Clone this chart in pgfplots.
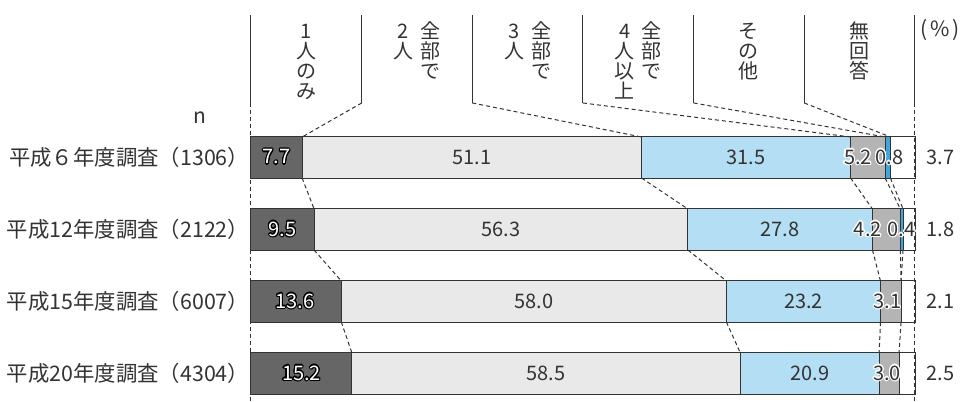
\documentclass[border=0pt]{standalone}
\usepackage{pgfplots}
\pgfplotsset{compat=1.18}
\usepackage{fontspec}
\setmainfont{Noto Sans CJK JP}
\usepackage{contour}
\contourlength{0.55pt}
\definecolor{c1}{HTML}{666666}
\definecolor{c2}{HTML}{E9E9E9}
\definecolor{c3}{HTML}{B3DEF3}
\definecolor{c4}{HTML}{B4B4B4}
\definecolor{c5}{HTML}{3FA6DE}
\definecolor{tx}{HTML}{333333}
\definecolor{ln}{HTML}{333333}
\newcommand\vch[1]{\hbox to 11pt{\hss\vrule height 8.8pt depth 1.2pt width 0pt #1\hss}}
\newcommand\vtext[1]{\vbox{\baselineskip=10pt\lineskiplimit=-10pt\lineskip=0pt #1}}
\pgfplotsset{base/.style={scale only axis, width=332pt, height=200.5pt,
  xmin=0, xmax=100, ymin=0.618, ymax=6.1875, hide axis, clip=false}}
\tikzset{dsh/.style={line width=0.5pt, color=ln, dash pattern=on 2pt off 1.5pt},
  sld/.style={line width=0.5pt, color=ln},
  hdr/.style={anchor=north, inner sep=0pt, text=tx, font=\fontsize{10}{10}\selectfont},
  rowlab/.style={anchor=east, inner sep=0pt, text=tx, font=\fontsize{10.7}{12}\selectfont}}
\begin{document}
\begin{tikzpicture}
\begin{axis}[base, xbar stacked, bar width=0.57]
\addplot[fill=c1, draw=ln, line width=0.5pt] coordinates {(7.7,4) (9.5,3) (13.6,2) (15.2,1)};
\addplot[fill=c2, draw=ln, line width=0.5pt] coordinates {(51.1,4) (56.3,3) (58.0,2) (58.5,1)};
\addplot[fill=c3, draw=ln, line width=0.5pt] coordinates {(31.5,4) (27.8,3) (23.2,2) (20.9,1)};
\addplot[fill=c4, draw=ln, line width=0.5pt] coordinates {(5.2,4) (4.2,3) (3.1,2) (3.0,1)};
\addplot[fill=c5, draw=ln, line width=0.5pt] coordinates {(0.8,4) (0.4,3) (0,2) (0,1)};
\addplot[fill=white, draw=ln, line width=0.5pt] coordinates {(3.7,4) (1.8,3) (2.1,2) (2.5,1)};
\end{axis}
\begin{axis}[base]
\path (axis cs:-37.8,0.618) rectangle (axis cs:107.23,6.1875);
% header solid lines
\addplot[sld] coordinates {(0,4.757) (0,5.979)};
\addplot[sld] coordinates {(16.667,4.757) (16.667,5.979)};
\addplot[sld] coordinates {(33.333,4.757) (33.333,5.979)};
\addplot[sld] coordinates {(50,4.757) (50,5.979)};
\addplot[sld] coordinates {(66.667,4.757) (66.667,5.979)};
\addplot[sld] coordinates {(83.333,4.757) (83.333,5.979)};
\addplot[sld] coordinates {(100,4.757) (100,5.979)};
% long dashed edges
\addplot[dsh] coordinates {(0,4.757) (0,0.618)};
\addplot[dsh] coordinates {(100,4.757) (100,0.618)};
% header connectors
\addplot[dsh] coordinates {(16.667,4.757) (7.7,4.285)};
\addplot[dsh] coordinates {(33.333,4.757) (58.8,4.285)};
\addplot[dsh] coordinates {(50,4.757) (90.3,4.285)};
\addplot[dsh] coordinates {(66.667,4.757) (95.5,4.285)};
\addplot[dsh] coordinates {(83.333,4.757) (96.3,4.285)};
% row 1 -> row 2
\addplot[dsh] coordinates {(7.7,3.715) (9.5,3.285)};
\addplot[dsh] coordinates {(58.8,3.715) (65.8,3.285)};
\addplot[dsh] coordinates {(90.3,3.715) (93.6,3.285)};
\addplot[dsh] coordinates {(95.5,3.715) (97.8,3.285)};
\addplot[dsh] coordinates {(96.3,3.715) (98.2,3.285)};
% row 2 -> row 3
\addplot[dsh] coordinates {(9.5,2.715) (13.6,2.285)};
\addplot[dsh] coordinates {(65.8,2.715) (71.6,2.285)};
\addplot[dsh] coordinates {(93.6,2.715) (94.8,2.285)};
\addplot[dsh] coordinates {(97.8,2.715) (97.9,2.285)};
\addplot[dsh] coordinates {(98.2,2.715) (97.9,2.285)};
% row 3 -> row 4
\addplot[dsh] coordinates {(13.6,1.715) (15.2,1.285)};
\addplot[dsh] coordinates {(71.6,1.715) (73.7,1.285)};
\addplot[dsh] coordinates {(94.8,1.715) (94.6,1.285)};
\addplot[dsh] coordinates {(97.9,1.715) (97.6,1.285)};
% value labels
\addplot[draw=none, nodes near coords={\contour{black}{\pgfplotspointmeta}}, point meta=explicit symbolic,
  nodes near coords align=center,
  every node near coord/.append style={anchor=center, inner sep=0pt, text=white, font=\fontsize{10}{12}\selectfont}]
  coordinates {(3.85,4) [7.7] (4.75,3) [9.5] (6.6,2) [13.6] (7.6,1) [15.2]};
\addplot[draw=none, nodes near coords, point meta=explicit symbolic,
  nodes near coords align=center,
  every node near coord/.append style={anchor=center, inner sep=0pt, text=tx, font=\fontsize{10}{12}\selectfont}]
  coordinates {(33.25,4) [51.1] (37.65,3) [56.3] (42.6,2) [58.0] (44.45,1) [58.5]
               (74.55,4) [31.5] (79.7,3) [27.8] (83.2,2) [23.2] (84.15,1) [20.9]
               (103.8,4) [3.7] (103.8,3) [1.8] (103.8,2) [2.1] (103.8,1) [2.5]};
\addplot[draw=none, nodes near coords={\contour{white}{\pgfplotspointmeta}}, point meta=explicit symbolic,
  nodes near coords align=center,
  every node near coord/.append style={anchor=center, inner sep=0pt, text=tx, font=\fontsize{10}{12}\selectfont}]
  coordinates {(91.4,4) [5.2] (96.2,4) [0.8] (92.9,3) [4.2] (98.0,3) [0.4] (95.9,2) [3.1] (95.8,1) [3.0]};
% header texts
\node[hdr] at (axis cs:8.333,5.896) {\vtext{\vch{1}\vch{人}\vch{の}\vch{み}}};
\node[hdr] at (axis cs:22.95,5.896) {\vtext{\vch{2}\vch{人}}};
\node[hdr] at (axis cs:27.05,5.896) {\vtext{\vch{全}\vch{部}\vch{で}}};
\node[hdr] at (axis cs:39.617,5.896) {\vtext{\vch{3}\vch{人}}};
\node[hdr] at (axis cs:43.717,5.896) {\vtext{\vch{全}\vch{部}\vch{で}}};
\node[hdr] at (axis cs:56.283,5.896) {\vtext{\vch{4}\vch{人}\vch{以}\vch{上}}};
\node[hdr] at (axis cs:60.383,5.896) {\vtext{\vch{全}\vch{部}\vch{で}}};
\node[hdr] at (axis cs:75,5.896) {\vtext{\vch{そ}\vch{の}\vch{他}}};
\node[hdr] at (axis cs:91.667,5.896) {\vtext{\vch{無}\vch{回}\vch{答}}};
\node[anchor=center, inner sep=0pt, text=tx, font=\fontsize{10.5}{12}\selectfont] at (axis cs:103.8,5.771) {(\kern1.5pt\%\kern1.5pt)};
\node[anchor=center, inner sep=0pt, text=tx, font=\fontsize{10.5}{12}\selectfont] at (axis cs:-7.7,4.549) {n};
% row labels
\node[rowlab] at (axis cs:-0.2,4) {平成６年度調査（1306）};
\node[rowlab] at (axis cs:-0.2,3) {平成12年度調査（2122）};
\node[rowlab] at (axis cs:-0.2,2) {平成15年度調査（6007）};
\node[rowlab] at (axis cs:-0.2,1) {平成20年度調査（4304）};
\end{axis}
\end{tikzpicture}
\end{document}
